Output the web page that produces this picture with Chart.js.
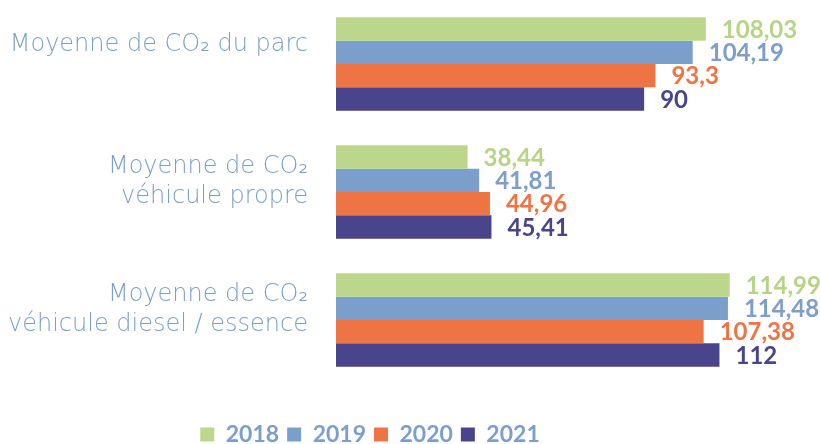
<!DOCTYPE html>
<html>
<head>
<meta charset="utf-8">
<script src="https://cdn.jsdelivr.net/npm/chart.js@4"></script>
<style>
  html, body { margin: 0; padding: 0; background: #fff; }
  #wrap { width: 820px; height: 444px; position: relative; }
</style>
</head>
<body>
<div id="wrap"><canvas id="co2Chart"></canvas></div>
<script>
const categories = [
  ["Moyenne de CO\u2082 du parc", ""],
  ["Moyenne de CO\u2082", "véhicule propre"],
  ["Moyenne de CO\u2082", "véhicule diesel / essence"]
];
const years = ["2018", "2019", "2020", "2021"];
const values2018 = [108.03, 38.44, 114.99];
const values2019 = [104.19, 41.81, 114.48];
const values2020 = [93.3, 44.96, 107.38];
const values2021 = [90, 45.41, 112];

const barColors = ["#bcd78b", "#7c9ecb", "#ee7444", "#4a448c"];
const labelColors = ["#b7d486", "#7c9ecb", "#ee7444", "#4a448c"];
const textColor = "#7c9ecb";

const series = [values2018, values2019, values2020, values2021];

// value labels at the end of each bar, french decimal comma
const valueLabels = {
  id: "valueLabels",
  afterDatasetsDraw(chart) {
    const c = chart.ctx;
    c.save();
    c.font = "bold 24px Lato";
    c.textAlign = "left";
    c.textBaseline = "middle";
    chart.data.datasets.forEach((ds, i) => {
      const meta = chart.getDatasetMeta(i);
      meta.data.forEach((bar, j) => {
        c.fillStyle = labelColors[i];
        c.fillText(String(ds.data[j]).replace(".", ","), bar.x + 16, bar.y + 1);
      });
    });
    c.restore();
  }
};

new Chart(document.getElementById("co2Chart"), {
  type: "bar",
  data: {
    labels: categories,
    datasets: years.map((y, i) => ({
      label: y,
      data: series[i],
      backgroundColor: barColors[i],
      borderWidth: 0,
      barPercentage: 1,
      categoryPercentage: 0.73
    }))
  },
  plugins: [valueLabels],
  options: {
    indexAxis: "y",
    responsive: true,
    maintainAspectRatio: false,
    animation: false,
    layout: { padding: { left: 0, right: 80, top: -3, bottom: -12 } },
    plugins: {
      tooltip: { enabled: false },
      legend: {
        position: "bottom",
        title: {
          display: true,
          text: "",
          font: { size: 1, lineHeight: "1px" },
          padding: { top: 0, bottom: 30 }
        },
        labels: {
          boxWidth: 14,
          boxHeight: 14,
          padding: 8,
          color: textColor,
          font: { family: "Lato", size: 23, weight: "bold" }
        }
      }
    },
    scales: {
      x: { display: false, min: 0, max: 118 },
      y: {
        grid: { display: false, drawTicks: false },
        border: { display: false },
        afterFit: scale => {
          scale.width = 336;
          scale.paddingTop = 0;
          scale.paddingBottom = 0;
        },
        ticks: {
          padding: 28,
          labelOffset: -10,
          color: textColor,
          font: ctx => ({
            family: "DejaVu Sans",
            size: 24,
            weight: 200,
            lineHeight: ctx.index === 0 ? "18px" : "30px"
          })
        }
      }
    }
  }
});
</script>
</body>
</html>
